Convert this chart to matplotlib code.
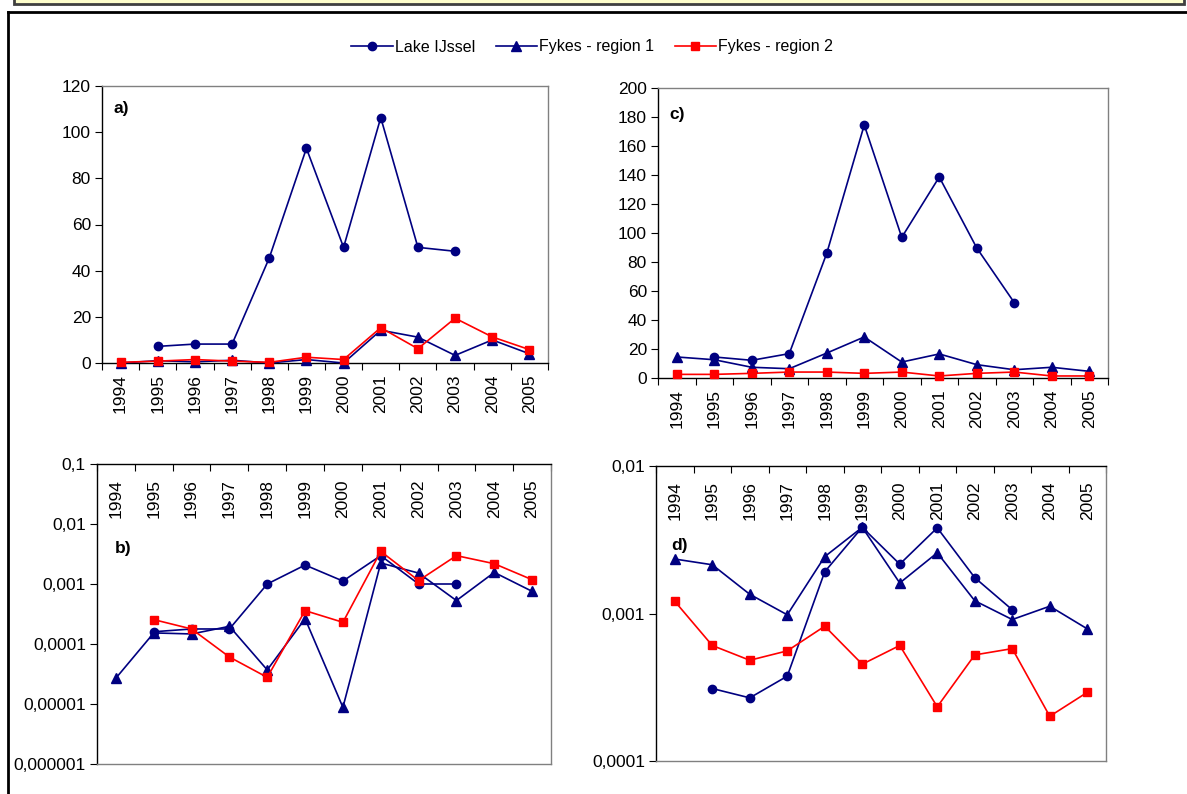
import numpy as np
import matplotlib
matplotlib.use("Agg")
from matplotlib import pyplot as plt
from matplotlib.lines import Line2D
from matplotlib.patches import Rectangle
from matplotlib.ticker import FixedLocator, FixedFormatter

plt.rcParams['font.family'] = ['Liberation Sans', 'DejaVu Sans']

years = [1994, 1995, 1996, 1997, 1998, 1999, 2000, 2001, 2002, 2003, 2004, 2005]
nan = np.nan

# panel a
lake_a = [nan, 7.2, 8.2, 8.2, 45.5, 93, 50.1, 106.3, 50.1, 48.4, nan, nan]
fyk1_a = [0, 1.0, 0.5, 1.2, 0, 1.5, 0, 14.2, 11.2, 3.3, 10, 4]
fyk2_a = [0.3, 0.8, 1.5, 0.8, 0.3, 2.5, 1.5, 15.3, 6.2, 19.4, 11.3, 5.8]

# panel c
lake_c = [nan, 14.5, 12.2, 16.8, 86, 174.5, 97, 138.6, 89.7, 52, nan, nan]
fyk1_c = [14.5, 12.6, 7.4, 6.4, 17.2, 28.3, 11, 16.6, 9.2, 5.7, 7.4, 4.6]
fyk2_c = [2.5, 2.5, 3.2, 4.1, 4.1, 3.2, 4.1, 1.4, 3.2, 4.1, 1.4, 1.4]

# panel b (log)
lake_b = [nan, 1.6e-4, 1.78e-4, 1.78e-4, 1.0e-3, 2.07e-3, 1.12e-3, 2.97e-3, 1.0e-3, 1.0e-3, nan, nan]
fyk1_b = [2.7e-5, 1.53e-4, 1.47e-4, 1.97e-4, 3.7e-5, 2.64e-4, 8.8e-6, 2.24e-3, 1.52e-3, 5.3e-4, 1.56e-3, 7.55e-4]
fyk2_b = [nan, 2.55e-4, 1.78e-4, 6.07e-5, 2.78e-5, 3.6e-4, 2.3e-4, 3.5e-3, 1.14e-3, 2.97e-3, 2.18e-3, 1.18e-3]

# panel d (log)
lake_d = [nan, 3.1e-4, 2.68e-4, 3.76e-4, 1.92e-3, 3.84e-3, 2.16e-3, 3.81e-3, 1.75e-3, 1.06e-3, nan, nan]
fyk1_d = [2.34e-3, 2.14e-3, 1.35e-3, 9.8e-4, 2.43e-3, 3.84e-3, 1.61e-3, 2.58e-3, 1.22e-3, 9.1e-4, 1.12e-3, 7.87e-4]
fyk2_d = [1.21e-3, 6.07e-4, 4.82e-4, 5.58e-4, 8.2e-4, 4.53e-4, 6.07e-4, 2.33e-4, 5.24e-4, 5.78e-4, 2.01e-4, 2.92e-4]

series_names = ['Lake IJssel', 'Fykes - region 1', 'Fykes - region 2']
series_colors = ['#000080', '#000080', '#FF0000']
series_markers = ['o', '^', 's']
series_ms = [6, 6.5, 5.5]

FS = 12.5

W, H = 1187, 794
fig = plt.figure(figsize=(W / 100, H / 100), dpi=100)
fig.patch.set_facecolor('white')

# yellow header box (cut off at top) and the outer frame
fig.add_artist(Rectangle((14 / W, 1 - 4 / H), 1170 / W, 10 / H, transform=fig.transFigure,
                         facecolor='#FFFFCC', edgecolor='#404040', lw=2, clip_on=False))
fig.add_artist(Line2D([8 / W, 1.0], [1 - 12 / H, 1 - 12 / H], transform=fig.transFigure,
                      color='black', lw=2))
fig.add_artist(Line2D([8 / W, 8 / W], [0, 1 - 12 / H], transform=fig.transFigure,
                      color='black', lw=2))


def px_axes(l, t, r, b):
    return fig.add_axes([l / W, 1 - b / H, (r - l) / W, (b - t) / H])


def setup(ax, top_axis, label, lab_xy):
    x = np.arange(len(years))
    ax.set_xlim(-0.5, len(years) - 0.5)
    ax.xaxis.set_major_locator(FixedLocator(np.arange(-0.5, len(years), 1.0)))
    ax.xaxis.set_major_formatter(FixedFormatter([''] * (len(years) + 1)))
    ax.xaxis.set_minor_locator(FixedLocator(x))
    ax.xaxis.set_minor_formatter(FixedFormatter([str(y) for y in years]))
    ax.tick_params(axis='x', which='minor', length=0, labelsize=FS, labelrotation=90)
    ax.tick_params(axis='y', which='both', direction='out', length=5, labelsize=FS, pad=3)
    for s in ax.spines.values():
        s.set_color('#808080')
        s.set_linewidth(1.0)
    ax.spines['left'].set_color('black')
    if top_axis:
        ax.xaxis.tick_top()
        ax.spines['top'].set_color('black')
        ax.tick_params(axis='x', which='major', direction='in', length=5, top=True, bottom=False)
        ax.tick_params(axis='x', which='minor', top=True, bottom=False, labeltop=True,
                       labelbottom=False, pad=-11)
        for lbl in ax.get_xticklabels(minor=True):
            lbl.set_va('top')
    else:
        ax.spines['bottom'].set_color('black')
        ax.tick_params(axis='x', which='major', direction='out', length=5)
        ax.tick_params(axis='x', which='minor', pad=8)
    ax.text(lab_xy[0], lab_xy[1], label, transform=ax.transAxes, fontsize=12.5,
            fontweight='bold', va='center', ha='left')


def draw(ax, data):
    x = np.arange(len(years))
    handles = []
    for vals, name, c, m, ms in zip(data, series_names, series_colors, series_markers, series_ms):
        h, = ax.plot(x, vals, color=c, marker=m, markersize=ms, lw=1.2,
                     markeredgecolor=c, markerfacecolor=c, label=name, clip_on=False, zorder=3)
        handles.append(h)
    return handles


# a)
ax_a = px_axes(102, 86, 548, 363)
handles = draw(ax_a, [lake_a, fyk1_a, fyk2_a])
ax_a.set_ylim(0, 120)
ax_a.set_yticks(np.arange(0, 121, 20))
setup(ax_a, False, 'a)', (0.025, 0.92))

# c)
ax_c = px_axes(658, 88, 1108, 378)
draw(ax_c, [lake_c, fyk1_c, fyk2_c])
ax_c.set_ylim(0, 200)
ax_c.set_yticks(np.arange(0, 201, 20))
setup(ax_c, False, 'c)', (0.025, 0.91))

# b)
ax_b = px_axes(97, 464, 551, 764)
draw(ax_b, [lake_b, fyk1_b, fyk2_b])
ax_b.set_yscale('log')
ax_b.set_ylim(1e-6, 1e-1)
b_ticks = [1e-6, 1e-5, 1e-4, 1e-3, 1e-2, 1e-1]
b_labels = ['0,000001', '0,00001', '0,0001', '0,001', '0,01', '0,1']
ax_b.yaxis.set_major_locator(FixedLocator(b_ticks))
ax_b.yaxis.set_major_formatter(FixedFormatter(b_labels))
ax_b.yaxis.set_minor_locator(FixedLocator([]))
setup(ax_b, True, 'b)', (0.04, 0.72))

# d)
ax_d = px_axes(656, 466, 1106, 761)
draw(ax_d, [lake_d, fyk1_d, fyk2_d])
ax_d.set_yscale('log')
ax_d.set_ylim(1e-4, 1e-2)
d_ticks = [1e-4, 1e-3, 1e-2]
d_labels = ['0,0001', '0,001', '0,01']
ax_d.yaxis.set_major_locator(FixedLocator(d_ticks))
ax_d.yaxis.set_major_formatter(FixedFormatter(d_labels))
ax_d.yaxis.set_minor_locator(FixedLocator([]))
setup(ax_d, True, 'd)', (0.035, 0.73))

fig.legend(handles=handles, labels=series_names, loc='center', ncol=3,
           bbox_to_anchor=(592 / W, 1 - 47 / H), frameon=False, fontsize=11.5,
           handlelength=2.6, columnspacing=1.3, handletextpad=0.1)

fig.savefig('out.png', dpi=100)
